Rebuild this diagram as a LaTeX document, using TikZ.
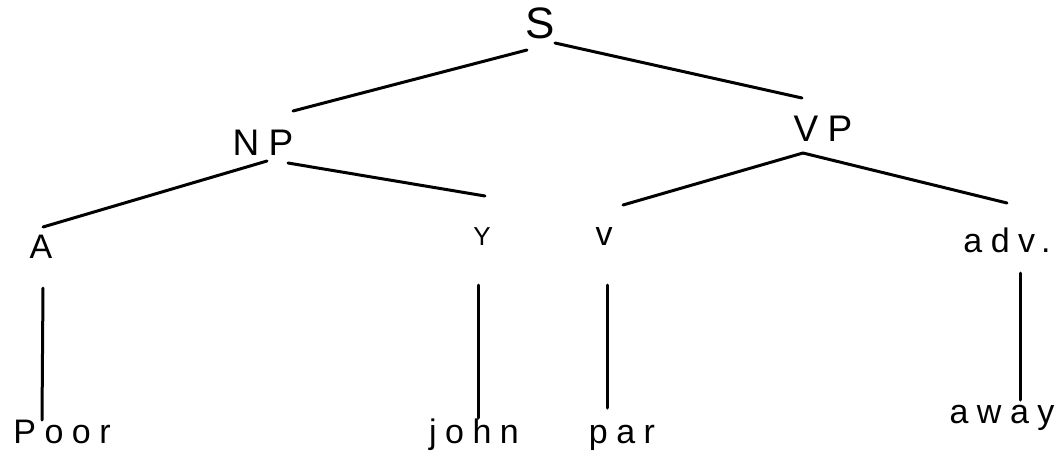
\documentclass[tikz,border=0pt]{standalone}
\usepackage{fontspec}
\newfontfamily\hand[LetterSpace=25]{Liberation Sans}
\tikzset{
  cat/.style={inner sep=0pt,anchor=base,font=\hand\fontsize{#1}{#1}\selectfont},
  cat/.default=34,
  word/.style={inner sep=0pt,anchor=base,font=\hand\fontsize{34}{34}\selectfont},
  branch/.style={draw=black,line width=3pt,line cap=round},
}
\begin{document}
\begin{tikzpicture}[x=1pt,y=-1pt]
  \useasboundingbox (0,0) rectangle (1058,461);
  % categories
  \node[cat=44] (s) at (540,38) {S};
  \node[cat=37] (np) at (263,155) {NP};
  \node[cat=37] (vp) at (823,141) {VP};
  \node[cat] (a) at (41,258) {A};
  \node[cat=26] (n) at (482,245) {Y};
  \node[cat] (v) at (604,245) {v};
  \node[cat] (adv) at (1007,252) {adv.};
  % words
  \node[word] (poor) at (62,443) {Poor};
  \node[word] (john) at (474,443) {john};
  \node[word] (ran) at (622,443) {par};
  \node[word] (away) at (1002,423) {away};
  % branches
  \draw[branch] ([shift={(-13,12)}]s.base) -- ([shift={(30,-44)}]np.base);
  \draw[branch] ([shift={(15,5)}]s.base) -- ([shift={(-21,-43)}]vp.base);
  \draw[branch] ([shift={(4,6)}]np.base) -- ([shift={(2,-31)}]a.base);
  \draw[branch] ([shift={(25,8)}]np.base) -- ([shift={(3,-49)}]n.base);
  \draw[branch] ([shift={(-20,12)}]vp.base) -- ([shift={(19,-40)}]v.base);
  \draw[branch] ([shift={(-20,12)}]vp.base) -- ([shift={(0,-49)}]adv.base);
  \draw[branch] ([shift={(2,30)}]a.base) -- ([shift={(-20,-23)}]poor.base);
  \draw[branch] ([shift={(-4,40)}]n.base) -- ([shift={(4,-25)}]john.base);
  \draw[branch] ([shift={(3,40)}]v.base) -- ([shift={(-15,-35)}]ran.base);
  \draw[branch] ([shift={(13,21)}]adv.base) -- ([shift={(18,-23)}]away.base);
\end{tikzpicture}
\end{document}
